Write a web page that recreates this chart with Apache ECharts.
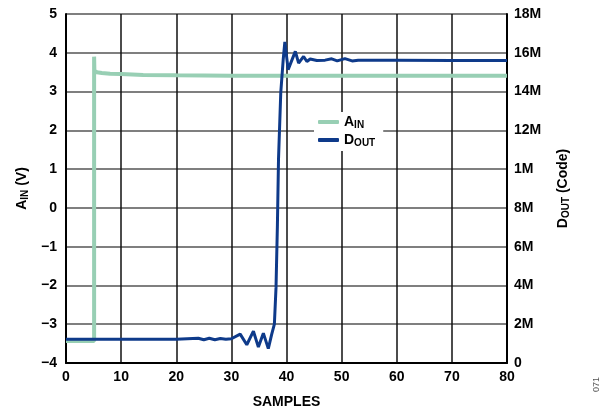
<!DOCTYPE html>
<html>
<head>
<meta charset="utf-8">
<script src="https://cdn.jsdelivr.net/npm/echarts@6/dist/echarts.min.js"></script>
<style>
  html, body { margin: 0; padding: 0; background: #fff; }
  #chart { width: 605px; height: 414px; }
</style>
</head>
<body>
<div id="chart"></div>
<script>
// A_IN (V) samples
var ainX = [0, 5.1, 5.1, 5.15, 5.6, 6.5, 8, 10, 14, 20, 30, 50, 80];
var ainY = [-3.43, -3.43, 3.9, 3.53, 3.5, 3.48, 3.46, 3.45, 3.43, 3.42, 3.41, 3.41, 3.41];

// D_OUT (codes, in millions)
var doutX = [0, 10, 20, 24, 25, 26, 27, 28, 29, 30, 31.6, 32.8, 34.0, 34.9, 35.8, 36.7, 37.3, 37.8, 38.1, 38.35, 38.55, 38.96, 39.4, 39.7, 40.3, 41.6, 42.2, 43.1, 43.7, 44.3, 45.5, 47, 48.2, 49.2, 50.6, 51.9, 53, 60, 70, 80];
var doutY = [1.23, 1.23, 1.23, 1.28, 1.2, 1.28, 1.2, 1.26, 1.22, 1.25, 1.49, 0.94, 1.64, 0.82, 1.54, 0.74, 1.46, 2.0, 3.9, 7.1, 10.5, 13.95, 15.64, 16.56, 15.13, 16.07, 15.47, 15.81, 15.55, 15.68, 15.6, 15.62, 15.69, 15.58, 15.7, 15.58, 15.62, 15.61, 15.6, 15.6];

var leftTicks = ['\u22124', '\u22123', '\u22122', '\u22121', '0', '1', '2', '3', '4', '5'];
var rightTicks = ['0', '2M', '4M', '6M', '8M', '1M', '12M', '14M', '16M', '18M'];

var FONT = '"Liberation Sans", Arial, sans-serif';

function pairs(xs, ys) {
    var out = [];
    for (var i = 0; i < xs.length; i++) out.push([xs[i], ys[i]]);
    return out;
}

var nameRich = {
    b: { fontFamily: FONT, fontSize: 14, fontWeight: 'bold', color: '#000' },
    s: { fontFamily: FONT, fontSize: 10, fontWeight: 'bold', color: '#000', padding: [6, 0, 0, 0] }
};

var myChart = echarts.init(document.getElementById('chart'));
var option = {
    animation: false,
    backgroundColor: '#fff',
    grid: { left: 66, right: 98, top: 14, bottom: 49 },
    legend: {
        data: ['A_IN', 'D_OUT'],
        orient: 'vertical',
        left: 314,
        top: 112,
        itemWidth: 21,
        itemHeight: 4,
        itemGap: 3,
        icon: 'roundRect',
        padding: [3, 8, 3, 4],
        backgroundColor: '#fff',
        formatter: function (n) {
            return n === 'A_IN' ? '{b|A}{s|IN}' : '{b|D}{s|OUT}';
        },
        textStyle: { rich: nameRich }
    },
    xAxis: {
        type: 'value',
        min: 0, max: 80, interval: 10,
        name: 'SAMPLES',
        nameLocation: 'middle',
        nameGap: 32,
        nameTextStyle: { fontFamily: FONT, fontSize: 14, fontWeight: 'bold', color: '#000' },
        axisLine: { onZero: false, lineStyle: { color: '#000', width: 2 } },
        axisTick: { show: false },
        axisLabel: { fontFamily: FONT, fontSize: 14, fontWeight: 'bold', color: '#000', margin: 7 },
        splitLine: { show: true, lineStyle: { color: '#111', width: 1.5 } }
    },
    yAxis: [{
        type: 'value',
        min: -4, max: 5, interval: 1,
        name: '{b|A}{s|IN}{b| (V)}',
        nameLocation: 'middle',
        nameRotate: 90,
        nameGap: 36,
        nameTextStyle: { rich: nameRich },
        axisLine: { show: true, onZero: false, lineStyle: { color: '#000', width: 2 } },
        axisTick: { show: false },
        axisLabel: {
            fontFamily: FONT, fontSize: 14, fontWeight: 'bold', color: '#000', margin: 9,
            formatter: function (v) { return leftTicks[Math.round(v + 4)]; }
        },
        splitLine: { show: true, lineStyle: { color: '#555', width: 1.5 } }
    }, {
        type: 'value',
        min: 0, max: 18, interval: 2,
        name: '{b|D}{s|OUT}{b| (Code)}',
        nameLocation: 'middle',
        nameRotate: 90,
        nameGap: 48,
        nameTextStyle: { rich: nameRich },
        axisLine: { show: true, onZero: false, lineStyle: { color: '#000', width: 2 } },
        axisTick: { show: false },
        axisLabel: {
            fontFamily: FONT, fontSize: 14, fontWeight: 'bold', color: '#000', margin: 7,
            formatter: function (v) { return rightTicks[Math.round(v / 2)]; }
        },
        splitLine: { show: false }
    }],
    graphic: [{
        type: 'text',
        left: 592, top: 377,
        rotation: Math.PI / 2,
        style: { text: '071', fontFamily: FONT, fontSize: 9, fill: '#555' }
    }],
    series: [{
        name: 'A_IN',
        type: 'line',
        yAxisIndex: 0,
        symbol: 'none',
        color: '#98cfb4',
        lineStyle: { width: 4, color: '#98cfb4' },
        data: pairs(ainX, ainY),
        z: 2
    }, {
        name: 'D_OUT',
        type: 'line',
        yAxisIndex: 1,
        symbol: 'none',
        color: '#0e3a8a',
        lineStyle: { width: 3, color: '#0e3a8a' },
        data: pairs(doutX, doutY),
        z: 3
    }]
};
myChart.setOption(option);
</script>
</body>
</html>
